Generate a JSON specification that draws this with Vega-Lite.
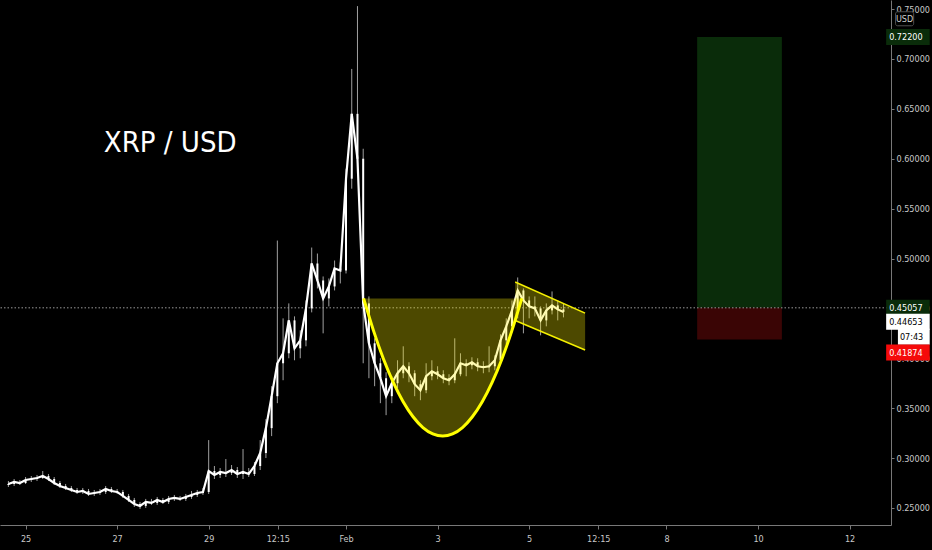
{
  "$schema": "https://vega.github.io/schema/vega-lite/v6.json",
  "description": "XRP / USD cup and handle with long position",
  "width": 891,
  "height": 525,
  "autosize": {"type": "none"},
  "padding": {"left": 0, "top": 0, "right": 41, "bottom": 25},
  "background": "#000000",
  "config": {
    "view": {"stroke": null},
    "font": "DejaVu Sans Condensed, DejaVu Sans, sans-serif"
  },
  "datasets": {
    "candles": [
      {"t": "2021-01-24T15:00Z", "o": 0.273, "h": 0.277, "l": 0.271, "c": 0.274},
      {"t": "2021-01-24T18:00Z", "o": 0.274, "h": 0.279, "l": 0.272, "c": 0.276},
      {"t": "2021-01-24T21:00Z", "o": 0.276, "h": 0.278, "l": 0.273, "c": 0.275},
      {"t": "2021-01-25T00:00Z", "o": 0.275, "h": 0.281, "l": 0.274, "c": 0.278},
      {"t": "2021-01-25T03:00Z", "o": 0.278, "h": 0.282, "l": 0.276, "c": 0.279},
      {"t": "2021-01-25T06:00Z", "o": 0.279, "h": 0.283, "l": 0.277, "c": 0.280},
      {"t": "2021-01-25T09:00Z", "o": 0.280, "h": 0.287, "l": 0.279, "c": 0.282},
      {"t": "2021-01-25T12:00Z", "o": 0.282, "h": 0.284, "l": 0.277, "c": 0.279},
      {"t": "2021-01-25T15:00Z", "o": 0.279, "h": 0.281, "l": 0.273, "c": 0.275},
      {"t": "2021-01-25T18:00Z", "o": 0.275, "h": 0.277, "l": 0.270, "c": 0.272},
      {"t": "2021-01-25T21:00Z", "o": 0.272, "h": 0.274, "l": 0.268, "c": 0.270},
      {"t": "2021-01-26T00:00Z", "o": 0.270, "h": 0.272, "l": 0.266, "c": 0.268},
      {"t": "2021-01-26T03:00Z", "o": 0.268, "h": 0.270, "l": 0.264, "c": 0.266},
      {"t": "2021-01-26T06:00Z", "o": 0.266, "h": 0.270, "l": 0.264, "c": 0.267},
      {"t": "2021-01-26T09:00Z", "o": 0.267, "h": 0.269, "l": 0.262, "c": 0.264},
      {"t": "2021-01-26T12:00Z", "o": 0.264, "h": 0.268, "l": 0.262, "c": 0.265},
      {"t": "2021-01-26T15:00Z", "o": 0.265, "h": 0.269, "l": 0.263, "c": 0.266},
      {"t": "2021-01-26T18:00Z", "o": 0.266, "h": 0.272, "l": 0.264, "c": 0.269},
      {"t": "2021-01-26T21:00Z", "o": 0.269, "h": 0.271, "l": 0.265, "c": 0.267},
      {"t": "2021-01-27T00:00Z", "o": 0.267, "h": 0.269, "l": 0.264, "c": 0.266},
      {"t": "2021-01-27T03:00Z", "o": 0.266, "h": 0.268, "l": 0.260, "c": 0.262},
      {"t": "2021-01-27T06:00Z", "o": 0.262, "h": 0.264, "l": 0.256, "c": 0.258},
      {"t": "2021-01-27T09:00Z", "o": 0.258, "h": 0.260, "l": 0.251, "c": 0.254},
      {"t": "2021-01-27T12:00Z", "o": 0.254, "h": 0.256, "l": 0.249, "c": 0.252},
      {"t": "2021-01-27T15:00Z", "o": 0.252, "h": 0.259, "l": 0.250, "c": 0.256},
      {"t": "2021-01-27T18:00Z", "o": 0.256, "h": 0.259, "l": 0.253, "c": 0.255},
      {"t": "2021-01-27T21:00Z", "o": 0.255, "h": 0.261, "l": 0.253, "c": 0.258},
      {"t": "2021-01-28T00:00Z", "o": 0.258, "h": 0.260, "l": 0.254, "c": 0.256},
      {"t": "2021-01-28T03:00Z", "o": 0.256, "h": 0.262, "l": 0.254, "c": 0.259},
      {"t": "2021-01-28T06:00Z", "o": 0.259, "h": 0.263, "l": 0.257, "c": 0.260},
      {"t": "2021-01-28T09:00Z", "o": 0.260, "h": 0.262, "l": 0.257, "c": 0.259},
      {"t": "2021-01-28T12:00Z", "o": 0.259, "h": 0.264, "l": 0.257, "c": 0.261},
      {"t": "2021-01-28T15:00Z", "o": 0.261, "h": 0.267, "l": 0.259, "c": 0.263},
      {"t": "2021-01-28T18:00Z", "o": 0.263, "h": 0.268, "l": 0.261, "c": 0.265},
      {"t": "2021-01-28T21:00Z", "o": 0.265, "h": 0.270, "l": 0.263, "c": 0.266},
      {"t": "2021-01-29T00:00Z", "o": 0.266, "h": 0.318, "l": 0.264, "c": 0.287},
      {"t": "2021-01-29T03:00Z", "o": 0.287, "h": 0.292, "l": 0.279, "c": 0.283},
      {"t": "2021-01-29T06:00Z", "o": 0.283, "h": 0.290, "l": 0.280, "c": 0.286},
      {"t": "2021-01-29T09:00Z", "o": 0.286, "h": 0.299, "l": 0.281, "c": 0.285},
      {"t": "2021-01-29T12:00Z", "o": 0.285, "h": 0.293, "l": 0.283, "c": 0.288},
      {"t": "2021-01-29T15:00Z", "o": 0.288, "h": 0.291, "l": 0.280, "c": 0.284},
      {"t": "2021-01-29T18:00Z", "o": 0.284, "h": 0.309, "l": 0.279, "c": 0.286},
      {"t": "2021-01-29T21:00Z", "o": 0.286, "h": 0.290, "l": 0.281, "c": 0.284},
      {"t": "2021-01-30T00:00Z", "o": 0.284, "h": 0.296, "l": 0.282, "c": 0.292},
      {"t": "2021-01-30T03:00Z", "o": 0.292, "h": 0.318, "l": 0.288, "c": 0.305},
      {"t": "2021-01-30T06:00Z", "o": 0.305, "h": 0.339, "l": 0.300, "c": 0.330},
      {"t": "2021-01-30T09:00Z", "o": 0.330, "h": 0.372, "l": 0.322, "c": 0.362},
      {"t": "2021-01-30T12:00Z", "o": 0.362, "h": 0.518, "l": 0.355, "c": 0.395},
      {"t": "2021-01-30T15:00Z", "o": 0.395, "h": 0.440, "l": 0.378, "c": 0.405},
      {"t": "2021-01-30T18:00Z", "o": 0.405, "h": 0.455, "l": 0.400, "c": 0.438},
      {"t": "2021-01-30T21:00Z", "o": 0.438, "h": 0.442, "l": 0.398, "c": 0.410},
      {"t": "2021-01-31T00:00Z", "o": 0.410, "h": 0.428, "l": 0.400, "c": 0.418},
      {"t": "2021-01-31T03:00Z", "o": 0.418, "h": 0.458, "l": 0.412, "c": 0.450},
      {"t": "2021-01-31T06:00Z", "o": 0.450, "h": 0.511, "l": 0.446, "c": 0.495},
      {"t": "2021-01-31T09:00Z", "o": 0.495, "h": 0.505, "l": 0.470, "c": 0.478},
      {"t": "2021-01-31T12:00Z", "o": 0.478, "h": 0.482, "l": 0.425, "c": 0.460},
      {"t": "2021-01-31T15:00Z", "o": 0.460, "h": 0.480, "l": 0.452, "c": 0.472},
      {"t": "2021-01-31T18:00Z", "o": 0.472, "h": 0.498, "l": 0.468, "c": 0.490},
      {"t": "2021-01-31T21:00Z", "o": 0.490, "h": 0.496, "l": 0.475, "c": 0.488},
      {"t": "2021-02-01T00:00Z", "o": 0.488, "h": 0.590, "l": 0.485, "c": 0.580},
      {"t": "2021-02-01T03:00Z", "o": 0.580, "h": 0.690, "l": 0.570, "c": 0.645},
      {"t": "2021-02-01T06:00Z", "o": 0.645, "h": 0.753, "l": 0.585, "c": 0.600},
      {"t": "2021-02-01T09:00Z", "o": 0.600, "h": 0.610, "l": 0.395, "c": 0.455},
      {"t": "2021-02-01T12:00Z", "o": 0.455, "h": 0.462, "l": 0.380, "c": 0.415},
      {"t": "2021-02-01T15:00Z", "o": 0.415, "h": 0.420, "l": 0.372, "c": 0.395},
      {"t": "2021-02-01T18:00Z", "o": 0.395, "h": 0.400, "l": 0.355, "c": 0.380},
      {"t": "2021-02-01T21:00Z", "o": 0.380, "h": 0.386, "l": 0.343, "c": 0.362},
      {"t": "2021-02-02T00:00Z", "o": 0.362, "h": 0.382, "l": 0.355, "c": 0.375},
      {"t": "2021-02-02T03:00Z", "o": 0.375, "h": 0.398, "l": 0.370, "c": 0.385},
      {"t": "2021-02-02T06:00Z", "o": 0.385, "h": 0.412, "l": 0.380, "c": 0.392},
      {"t": "2021-02-02T09:00Z", "o": 0.392, "h": 0.396, "l": 0.376, "c": 0.385},
      {"t": "2021-02-02T12:00Z", "o": 0.385, "h": 0.388, "l": 0.362, "c": 0.374},
      {"t": "2021-02-02T15:00Z", "o": 0.374, "h": 0.378, "l": 0.358, "c": 0.368},
      {"t": "2021-02-02T18:00Z", "o": 0.368, "h": 0.395, "l": 0.365, "c": 0.382},
      {"t": "2021-02-02T21:00Z", "o": 0.382, "h": 0.398, "l": 0.378, "c": 0.387},
      {"t": "2021-02-03T00:00Z", "o": 0.387, "h": 0.392, "l": 0.379, "c": 0.384},
      {"t": "2021-02-03T03:00Z", "o": 0.384, "h": 0.388, "l": 0.375, "c": 0.380},
      {"t": "2021-02-03T06:00Z", "o": 0.380, "h": 0.384, "l": 0.373, "c": 0.378},
      {"t": "2021-02-03T09:00Z", "o": 0.378, "h": 0.420, "l": 0.375, "c": 0.384},
      {"t": "2021-02-03T12:00Z", "o": 0.384, "h": 0.405, "l": 0.382, "c": 0.395},
      {"t": "2021-02-03T15:00Z", "o": 0.395, "h": 0.399, "l": 0.382, "c": 0.393},
      {"t": "2021-02-03T18:00Z", "o": 0.393, "h": 0.401, "l": 0.389, "c": 0.396},
      {"t": "2021-02-03T21:00Z", "o": 0.396, "h": 0.400, "l": 0.387, "c": 0.392},
      {"t": "2021-02-04T00:00Z", "o": 0.392, "h": 0.397, "l": 0.385, "c": 0.391},
      {"t": "2021-02-04T03:00Z", "o": 0.391, "h": 0.412, "l": 0.386, "c": 0.392},
      {"t": "2021-02-04T06:00Z", "o": 0.392, "h": 0.403, "l": 0.388, "c": 0.398},
      {"t": "2021-02-04T09:00Z", "o": 0.398, "h": 0.424, "l": 0.395, "c": 0.418},
      {"t": "2021-02-04T12:00Z", "o": 0.418, "h": 0.440, "l": 0.414, "c": 0.432},
      {"t": "2021-02-04T15:00Z", "o": 0.432, "h": 0.458, "l": 0.428, "c": 0.448},
      {"t": "2021-02-04T18:00Z", "o": 0.448, "h": 0.481, "l": 0.440, "c": 0.468},
      {"t": "2021-02-04T21:00Z", "o": 0.468, "h": 0.470, "l": 0.425, "c": 0.458},
      {"t": "2021-02-05T00:00Z", "o": 0.458, "h": 0.462, "l": 0.440, "c": 0.452},
      {"t": "2021-02-05T03:00Z", "o": 0.452, "h": 0.462, "l": 0.442, "c": 0.450},
      {"t": "2021-02-05T06:00Z", "o": 0.450, "h": 0.452, "l": 0.423, "c": 0.438},
      {"t": "2021-02-05T09:00Z", "o": 0.438, "h": 0.455, "l": 0.432, "c": 0.448},
      {"t": "2021-02-05T12:00Z", "o": 0.448, "h": 0.467, "l": 0.444, "c": 0.453},
      {"t": "2021-02-05T15:00Z", "o": 0.453, "h": 0.458, "l": 0.438, "c": 0.449},
      {"t": "2021-02-05T18:00Z", "o": 0.449, "h": 0.455, "l": 0.441, "c": 0.4465}
    ],
    "cup": [
      {"t": "2021-02-01T09:13Z", "p": 0.4600},
      {"t": "2021-02-01T14:24Z", "p": 0.4277},
      {"t": "2021-02-01T19:35Z", "p": 0.3996},
      {"t": "2021-02-02T00:46Z", "p": 0.3759},
      {"t": "2021-02-02T05:57Z", "p": 0.3565},
      {"t": "2021-02-02T11:08Z", "p": 0.3414},
      {"t": "2021-02-02T16:19Z", "p": 0.3306},
      {"t": "2021-02-02T21:30Z", "p": 0.3242},
      {"t": "2021-02-03T02:41Z", "p": 0.3220},
      {"t": "2021-02-03T07:52Z", "p": 0.3242},
      {"t": "2021-02-03T13:03Z", "p": 0.3306},
      {"t": "2021-02-03T18:14Z", "p": 0.3414},
      {"t": "2021-02-03T23:25Z", "p": 0.3565},
      {"t": "2021-02-04T04:36Z", "p": 0.3759},
      {"t": "2021-02-04T09:47Z", "p": 0.3996},
      {"t": "2021-02-04T14:58Z", "p": 0.4277},
      {"t": "2021-02-04T20:10Z", "p": 0.4600}
    ],
    "flag": [
      {"t": "2021-02-04T16:41Z", "top": 0.4765, "bottom": 0.4378},
      {"t": "2021-02-06T05:20Z", "top": 0.4453, "bottom": 0.4083}
    ],
    "position": [
      {"start": "2021-02-08T16:05Z", "end": "2021-02-10T12:30Z", "top": 0.722, "bottom": 0.45057, "zone": "target"},
      {"start": "2021-02-08T16:05Z", "end": "2021-02-10T12:30Z", "top": 0.45057, "bottom": 0.41874, "zone": "stop"}
    ],
    "tags": [
      {"price": 0.722, "label": "0.72200", "kind": "target"},
      {"price": 0.45057, "label": "0.45057", "kind": "entry"},
      {"price": 0.44653, "label": "0.44653", "kind": "last"},
      {"price": 0.44653, "label": "07:43", "kind": "timer"},
      {"price": 0.41874, "label": "0.41874", "kind": "stop"}
    ]
  },
  "layer": [
    {
      "data": {"name": "position"},
      "mark": {"type": "rect"},
      "encoding": {
        "x": {"field": "start", "type": "temporal", "title": null},
        "x2": {"field": "end"},
        "y": {"field": "top", "type": "quantitative", "title": null},
        "y2": {"field": "bottom"},
        "color": {
          "field": "zone",
          "type": "nominal",
          "legend": null,
          "scale": {"domain": ["target", "stop"], "range": ["#0a2c0a", "#3a0505"]}
        }
      }
    },
    {
      "data": {"values": [{"price": 0.45057}]},
      "mark": {"type": "rule", "color": "#9a9a9a", "strokeWidth": 1, "strokeDash": [1.5, 2]},
      "encoding": {"y": {"field": "price", "type": "quantitative", "title": null}}
    },
    {
      "data": {"name": "candles"},
      "layer": [
        {
          "mark": {"type": "rule", "color": "#a0a0a0", "strokeWidth": 1},
          "encoding": {
            "x": {
              "field": "t",
              "type": "temporal",
              "title": null,
              "scale": {
                "type": "utc",
                "domain": [
                  {"year": 2021, "month": 1, "date": 24, "hours": 13, "minutes": 13, "utc": true},
                  {"year": 2021, "month": 2, "date": 12, "hours": 19, "minutes": 5, "utc": true}
                ]
              },
              "axis": {
                "orient": "bottom",
                "grid": false,
                "values": [
                  {"year": 2021, "month": 1, "date": 25, "utc": true},
                  {"year": 2021, "month": 1, "date": 27, "utc": true},
                  {"year": 2021, "month": 1, "date": 29, "utc": true},
                  {"year": 2021, "month": 1, "date": 30, "hours": 12, "minutes": 15, "utc": true},
                  {"year": 2021, "month": 2, "date": 1, "utc": true},
                  {"year": 2021, "month": 2, "date": 3, "utc": true},
                  {"year": 2021, "month": 2, "date": 5, "utc": true},
                  {"year": 2021, "month": 2, "date": 6, "hours": 12, "minutes": 15, "utc": true},
                  {"year": 2021, "month": 2, "date": 8, "utc": true},
                  {"year": 2021, "month": 2, "date": 10, "utc": true},
                  {"year": 2021, "month": 2, "date": 12, "utc": true}
                ],
                "labelExpr": "utchours(datum.value) == 12 ? '12:15' : (utcdate(datum.value) == 1 ? 'Feb' : '' + utcdate(datum.value))",
                "labelColor": "#c8c8c8",
                "labelFontSize": 9,
                "labelPadding": 5,
                "labelFlush": false,
                "tickSize": 4,
                "tickColor": "#787878",
                "domainColor": "#787878"
              }
            },
            "y": {
              "field": "l",
              "type": "quantitative",
              "title": null,
              "scale": {"domain": [0.2379, 0.7541], "nice": false, "zero": false},
              "axis": {
                "orient": "right",
                "grid": false,
                "values": [0.25, 0.3, 0.35, 0.4, 0.45, 0.5, 0.55, 0.6, 0.65, 0.7, 0.75],
                "format": ".5f",
                "labelColor": "#c8c8c8",
                "labelFontSize": 9,
                "labelPadding": 2,
                "labelOverlap": false,
                "tickSize": 3,
                "tickColor": "#787878",
                "domainColor": "#787878"
              }
            },
            "y2": {"field": "h"}
          }
        },
        {
          "mark": {"type": "line", "color": "#ffffff", "strokeWidth": 2.2},
          "encoding": {
            "x": {"field": "t", "type": "temporal", "title": null},
            "y": {"field": "c", "type": "quantitative", "title": null}
          }
        },
        {
          "mark": {"type": "bar", "color": "#ffffff", "size": 2},
          "encoding": {
            "x": {"field": "t", "type": "temporal", "title": null},
            "y": {"field": "o", "type": "quantitative", "title": null},
            "y2": {"field": "c"}
          }
        }
      ]
    },
    {
      "data": {"name": "cup"},
      "mark": {"type": "area", "color": "#fff200", "opacity": 0.3, "interpolate": "natural"},
      "encoding": {
        "x": {"field": "t", "type": "temporal", "title": null},
        "y": {"field": "p", "type": "quantitative", "title": null},
        "y2": {"datum": 0.46}
      }
    },
    {
      "data": {"name": "flag"},
      "mark": {"type": "area", "color": "#fff200", "opacity": 0.3},
      "encoding": {
        "x": {"field": "t", "type": "temporal", "title": null},
        "y": {"field": "top", "type": "quantitative", "title": null},
        "y2": {"field": "bottom"}
      }
    },
    {
      "data": {"name": "flag"},
      "mark": {"type": "line", "color": "#f5f000", "strokeWidth": 1.5},
      "encoding": {
        "x": {"field": "t", "type": "temporal", "title": null},
        "y": {"field": "top", "type": "quantitative", "title": null}
      }
    },
    {
      "data": {"name": "flag"},
      "mark": {"type": "line", "color": "#f5f000", "strokeWidth": 1.5},
      "encoding": {
        "x": {"field": "t", "type": "temporal", "title": null},
        "y": {"field": "bottom", "type": "quantitative", "title": null}
      }
    },
    {
      "data": {"name": "cup"},
      "mark": {"type": "line", "color": "#ffff00", "strokeWidth": 3, "interpolate": "natural"},
      "encoding": {
        "x": {"field": "t", "type": "temporal", "title": null},
        "y": {"field": "p", "type": "quantitative", "title": null}
      }
    },
    {
      "data": {"values": [{"label": "XRP / USD"}]},
      "mark": {"type": "text", "color": "#ffffff", "fontSize": 29, "align": "left", "baseline": "middle"},
      "encoding": {
        "x": {"datum": {"year": 2021, "month": 1, "date": 26, "hours": 17, "minutes": 0, "utc": true}, "type": "temporal"},
        "y": {"datum": 0.6154, "type": "quantitative"},
        "text": {"field": "label"}
      }
    },
    {
      "data": {"name": "tags"},
      "transform": [{"filter": "datum.kind == 'target' || datum.kind == 'entry'"}],
      "layer": [
        {
          "mark": {"type": "bar", "orient": "horizontal", "size": 16},
          "encoding": {
            "x": {"datum": {"year": 2021, "month": 2, "date": 12, "hours": 19, "minutes": 10, "utc": true}, "type": "temporal"},
            "x2": {"datum": {"year": 2021, "month": 2, "date": 13, "hours": 18, "utc": true}},
            "y": {"field": "price", "type": "quantitative", "title": null},
            "color": {
              "field": "kind",
              "type": "nominal",
              "legend": null,
              "scale": {"domain": ["target", "entry"], "range": ["#12a012", "#5e5e5e"]}
            }
          }
        },
        {
          "mark": {"type": "text", "color": "#ffffff", "fontSize": 9, "align": "center", "baseline": "middle"},
          "encoding": {
            "x": {"datum": {"year": 2021, "month": 2, "date": 13, "hours": 5, "minutes": 30, "utc": true}, "type": "temporal"},
            "y": {"field": "price", "type": "quantitative", "title": null},
            "text": {"field": "label"}
          }
        }
      ]
    },
    {
      "data": {"name": "tags"},
      "transform": [{"filter": "datum.kind == 'last'"}],
      "layer": [
        {
          "mark": {"type": "bar", "orient": "horizontal", "size": 16, "color": "#ffffff", "yOffset": 10},
          "encoding": {
            "x": {"datum": {"year": 2021, "month": 2, "date": 12, "hours": 19, "minutes": 10, "utc": true}, "type": "temporal"},
            "x2": {"datum": {"year": 2021, "month": 2, "date": 13, "hours": 18, "utc": true}},
            "y": {"field": "price", "type": "quantitative", "title": null}
          }
        },
        {
          "mark": {"type": "text", "color": "#000000", "fontSize": 9, "align": "center", "baseline": "middle", "yOffset": 10},
          "encoding": {
            "x": {"datum": {"year": 2021, "month": 2, "date": 13, "hours": 5, "minutes": 30, "utc": true}, "type": "temporal"},
            "y": {"field": "price", "type": "quantitative", "title": null},
            "text": {"field": "label"}
          }
        }
      ]
    },
    {
      "data": {"name": "tags"},
      "transform": [{"filter": "datum.kind == 'timer'"}],
      "layer": [
        {
          "mark": {"type": "bar", "orient": "horizontal", "size": 16, "color": "#ffffff", "yOffset": 25},
          "encoding": {
            "x": {"datum": {"year": 2021, "month": 2, "date": 13, "hours": 1, "minutes": 20, "utc": true}, "type": "temporal"},
            "x2": {"datum": {"year": 2021, "month": 2, "date": 13, "hours": 18, "utc": true}},
            "y": {"field": "price", "type": "quantitative", "title": null}
          }
        },
        {
          "mark": {"type": "text", "color": "#000000", "fontSize": 9, "align": "center", "baseline": "middle", "yOffset": 25},
          "encoding": {
            "x": {"datum": {"year": 2021, "month": 2, "date": 13, "hours": 8, "minutes": 30, "utc": true}, "type": "temporal"},
            "y": {"field": "price", "type": "quantitative", "title": null},
            "text": {"field": "label"}
          }
        }
      ]
    },
    {
      "data": {"name": "tags"},
      "transform": [{"filter": "datum.kind == 'stop'"}],
      "layer": [
        {
          "mark": {"type": "bar", "orient": "horizontal", "size": 16, "color": "#f50a0a", "yOffset": 13},
          "encoding": {
            "x": {"datum": {"year": 2021, "month": 2, "date": 12, "hours": 19, "minutes": 10, "utc": true}, "type": "temporal"},
            "x2": {"datum": {"year": 2021, "month": 2, "date": 13, "hours": 18, "utc": true}},
            "y": {"field": "price", "type": "quantitative", "title": null}
          }
        },
        {
          "mark": {"type": "text", "color": "#ffffff", "fontSize": 9, "align": "center", "baseline": "middle", "yOffset": 13},
          "encoding": {
            "x": {"datum": {"year": 2021, "month": 2, "date": 13, "hours": 5, "minutes": 30, "utc": true}, "type": "temporal"},
            "y": {"field": "price", "type": "quantitative", "title": null},
            "text": {"field": "label"}
          }
        }
      ]
    },
    {
      "data": {"values": [{"label": "USD", "price": 0.7403}]},
      "layer": [
        {
          "mark": {"type": "bar", "orient": "horizontal", "size": 14, "color": "#000000", "stroke": "#505050", "strokeWidth": 1, "cornerRadius": 2},
          "encoding": {
            "x": {"datum": {"year": 2021, "month": 2, "date": 13, "hours": 0, "minutes": 5, "utc": true}, "type": "temporal"},
            "x2": {"datum": {"year": 2021, "month": 2, "date": 13, "hours": 9, "minutes": 35, "utc": true}},
            "y": {"field": "price", "type": "quantitative", "title": null}
          }
        },
        {
          "mark": {"type": "text", "color": "#d0d0d0", "fontSize": 9, "align": "center", "baseline": "middle"},
          "encoding": {
            "x": {"datum": {"year": 2021, "month": 2, "date": 13, "hours": 4, "minutes": 50, "utc": true}, "type": "temporal"},
            "y": {"field": "price", "type": "quantitative", "title": null},
            "text": {"field": "label"}
          }
        }
      ]
    }
  ]
}
